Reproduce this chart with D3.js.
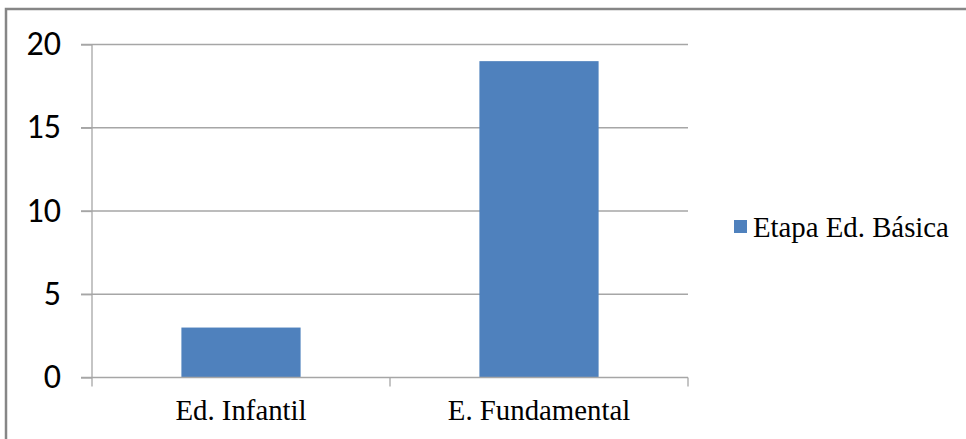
<!DOCTYPE html>
<html>
<head>
<meta charset="utf-8">
<script src="https://cdn.jsdelivr.net/npm/d3@7"></script>
<style>
  body { margin: 0; background: #fff; }
</style>
</head>
<body>
<script>
var categories = ['Ed. Infantil', 'E. Fundamental'];
var values = [3, 19];
var seriesName = 'Etapa Ed. Básica';
var yTicks = [0, 5, 10, 15, 20];

var svg = d3.select('body').append('svg').attr('width', 966).attr('height', 439);

// outer frame
svg.append('rect')
	.attr('x', 6).attr('y', 9)
	.attr('width', 970).attr('height', 440)
	.attr('fill', 'none')
	.attr('stroke', '#868686')
	.attr('stroke-width', 2.5);

var x = d3.scaleBand().domain(categories).range([92, 688]).paddingInner(0.6).paddingOuter(0.3);
var y = d3.scaleLinear().domain([0, 20]).range([377.5, 44.5]);

// gridlines
svg.selectAll('line.grid')
	.data(yTicks.filter(d => d > 0))
	.enter().append('line')
		.attr('class', 'grid')
		.attr('x1', 81).attr('x2', 688)
		.attr('y1', d => y(d)).attr('y2', d => y(d))
		.attr('stroke', '#a6a6a6')
		.attr('stroke-width', 1.3);

// bars
svg.selectAll('rect.bar')
	.data(values)
	.enter().append('rect')
		.attr('class', 'bar')
		.attr('x', (d, i) => x(categories[i]))
		.attr('y', d => y(d))
		.attr('width', x.bandwidth())
		.attr('height', d => y(0) - y(d))
		.attr('fill', '#4f81bd');

// y axis
var yAxis = d3.axisLeft(y).tickValues(yTicks).tickSize(11).tickPadding(20);
var gy = svg.append('g').attr('transform', 'translate(92,0)').call(yAxis);
gy.selectAll('line, path').attr('stroke', '#a6a6a6').attr('stroke-width', 1.3);
gy.select('.domain').attr('d', 'M0,' + y(20) + 'V' + y(0));
gy.selectAll('text')
	.attr('font-family', 'Carlito, "Open Sans", sans-serif')
	.attr('font-size', 34)
	.attr('dy', '0.3em')
	.attr('fill', '#000');

// x axis
var gx = svg.append('g').attr('transform', 'translate(0,' + y(0) + ')');
gx.append('line')
	.attr('x1', 81).attr('x2', 688)
	.attr('stroke', '#a6a6a6').attr('stroke-width', 1.3);
var edges = [x.range()[0]].concat(categories.map(c => x(c) + x.bandwidth() / 2 + x.step() / 2));
gx.selectAll('line.tick')
	.data(edges)
	.enter().append('line')
		.attr('class', 'tick')
		.attr('x1', d => d).attr('x2', d => d)
		.attr('y1', 0).attr('y2', 9)
		.attr('stroke', '#a6a6a6').attr('stroke-width', 1.3);
gx.selectAll('text')
	.data(categories)
	.enter().append('text')
		.attr('x', d => x(d) + x.bandwidth() / 2)
		.attr('y', 42.5)
		.attr('text-anchor', 'middle')
		.attr('font-family', '"Liberation Serif", "Times New Roman", serif')
		.attr('font-size', 28.8)
		.text(d => d);

// legend
var lg = svg.append('g').attr('transform', 'translate(734,220)');
lg.append('rect').attr('width', 13).attr('height', 13).attr('fill', '#4f81bd');
lg.append('text')
	.attr('x', 19).attr('y', 16.7)
	.attr('font-family', '"Liberation Serif", "Times New Roman", serif')
	.attr('font-size', 28.8)
	.text(seriesName);
</script>
</body>
</html>
